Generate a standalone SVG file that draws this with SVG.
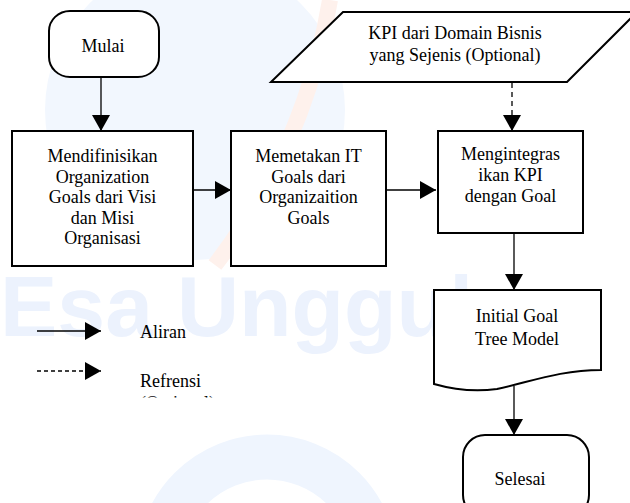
<svg xmlns="http://www.w3.org/2000/svg" width="630" height="503" viewBox="0 0 630 503">
<style>
.shape{fill:#fff;stroke:#000;stroke-width:2}
.lbl{font-family:'Liberation Serif','Times New Roman',Times,serif;font-size:18px;fill:#000;text-anchor:middle}
.leg{font-family:'Liberation Serif','Times New Roman',Times,serif;font-size:18px;fill:#000}
.line{fill:none;stroke:#000;stroke-width:1.3}
.dash{stroke-dasharray:5 4}
.wm{fill:#ecf2fd}
</style>
<defs>
<marker id="ah" viewBox="0 0 16 18" refX="16" refY="9" markerWidth="16" markerHeight="18" markerUnits="userSpaceOnUse" orient="auto">
<path d="M0,0 L16,9 L0,18 Z" fill="#000"/>
</marker>
<clipPath id="clipOpt"><rect x="130" y="390" width="120" height="7.5"/></clipPath>
</defs>
<rect width="630" height="503" fill="#fff"/>
<g id="watermark">
<circle cx="195" cy="110" r="150" fill="#f2f7fe"/>
<path d="M330,0 C315,90 280,180 215,265" fill="none" stroke="#fef1ec" stroke-width="16"/>
<circle cx="267" cy="565" r="108" fill="none" stroke="#eff5fe" stroke-width="45"/>
<text x="0" y="336" class="wm" font-family="Liberation Sans, Arial, sans-serif" font-weight="bold" font-size="86">Esa Unggul</text>
</g>
<g id="connectors">
<line class="line" x1="101" y1="77" x2="101" y2="131" marker-end="url(#ah)"/>
<line class="line" x1="193" y1="190" x2="231" y2="190" marker-end="url(#ah)"/>
<line class="line" x1="386" y1="190" x2="436" y2="190" marker-end="url(#ah)"/>
<line class="line dash" x1="512" y1="83" x2="512" y2="131" marker-end="url(#ah)"/>
<line class="line" x1="514" y1="233" x2="514" y2="290" marker-end="url(#ah)"/>
<line class="line" x1="514" y1="386" x2="514" y2="435" marker-end="url(#ah)"/>
</g>
<g id="mulai">
<rect class="shape" x="49" y="11" width="110" height="66" rx="21" ry="20"/>
<text class="lbl" x="103" y="52">Mulai</text>
</g>
<g id="kpi-domain">
<polygon class="shape" points="343,12 637,12 567,82 271,82"/>
<text class="lbl" x="455" y="39">KPI dari Domain Bisnis</text>
<text class="lbl" x="455" y="61">yang Sejenis (Optional)</text>
</g>
<g id="mendefinisikan">
<rect class="shape" x="12" y="131" width="181" height="135"/>
<text class="lbl" x="102.5" y="162">Mendifinisikan</text>
<text class="lbl" x="102.5" y="182.5">Organization</text>
<text class="lbl" x="102.5" y="203">Goals dari Visi</text>
<text class="lbl" x="102.5" y="223.5">dan Misi</text>
<text class="lbl" x="102.5" y="244">Organisasi</text>
</g>
<g id="memetakan">
<rect class="shape" x="231" y="131" width="155" height="135"/>
<text class="lbl" x="308.5" y="162">Memetakan IT</text>
<text class="lbl" x="308.5" y="182.5">Goals dari</text>
<text class="lbl" x="308.5" y="203">Organizaition</text>
<text class="lbl" x="308.5" y="223.5">Goals</text>
</g>
<g id="mengintegrasikan">
<rect class="shape" x="438" y="131" width="145" height="102"/>
<text class="lbl" x="510.5" y="160">Mengintegras</text>
<text class="lbl" x="510.5" y="181">ikan KPI</text>
<text class="lbl" x="510.5" y="202">dengan Goal</text>
</g>
<g id="initial-goal">
<path class="shape" d="M434,290 H601 V370 C560,370 530,382 497,389 C475,392 455,390 434,384 Z"/>
<text class="lbl" x="517" y="322">Initial Goal</text>
<text class="lbl" x="517" y="345">Tree Model</text>
</g>
<g id="selesai">
<rect class="shape" x="463" y="435" width="126" height="82" rx="22" ry="22"/>
<text class="lbl" x="520" y="485">Selesai</text>
</g>
<g id="legend">
<line class="line" x1="37" y1="331" x2="101" y2="331" marker-end="url(#ah)"/>
<line class="line" x1="37" y1="371" x2="101" y2="371" stroke-dasharray="4 3" marker-end="url(#ah)"/>
<text class="leg" x="140" y="338">Aliran</text>
<text class="leg" x="140" y="387">Refrensi</text>
<text class="leg" x="140" y="408.5" clip-path="url(#clipOpt)">(Optional)</text>
</g>
</svg>
